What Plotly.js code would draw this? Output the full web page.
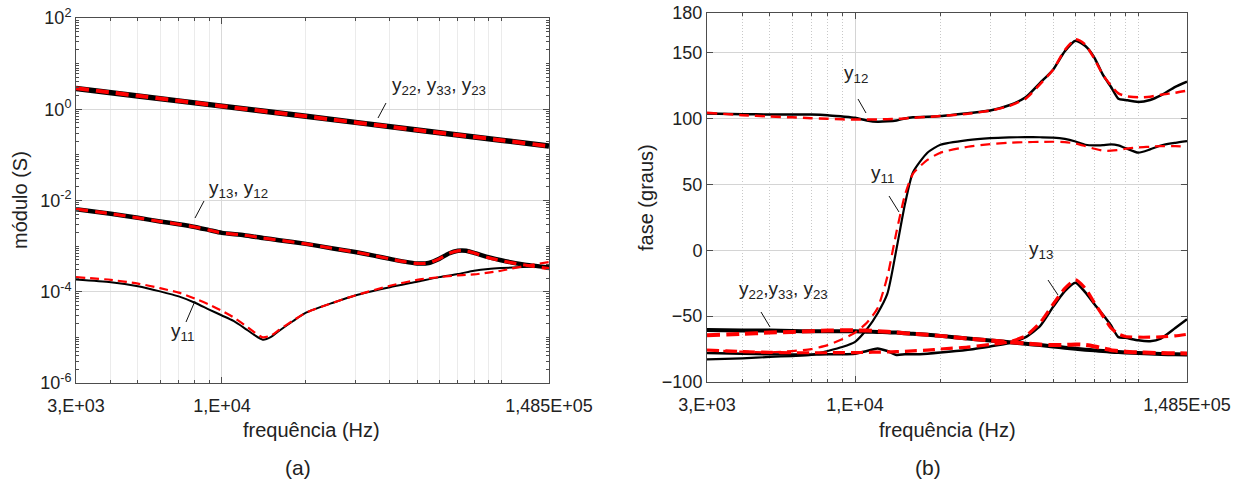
<!DOCTYPE html>
<html><head><meta charset="utf-8">
<script src="https://cdn.plot.ly/plotly-3.0.1.min.js"></script>
<style>body{margin:0;background:#fff}#chart{width:1244px;height:486px}</style>
</head><body><div id="chart"></div>
<script>
// ---------- DATA ----------
// (a) modulo (S)
const magTopFreq  = [3000, 5000, 10000, 20000, 50000, 100000, 148500];
const magY22Meas  = [2.85, 1.95, 1.17, 0.70, 0.352, 0.21, 0.157];
const magY22Model = [2.9, 1.97, 1.17, 0.70, 0.350, 0.21, 0.155];

const magMidFreq  = [3000,4000,5000,6000,7000,8000,9000,10000,12000,14000,16000,20000,25000,30000,35000,40000,45000,50000,55000,60000,65000,70000,75000,80000,90000,100000,120000,148500];
const magY13Meas  = [6.46e-3,5.13e-3,4.17e-3,3.47e-3,3.02e-3,2.63e-3,2.24e-3,1.95e-3,1.74e-3,1.51e-3,1.35e-3,1.12e-3,8.9e-4,7.4e-4,6.2e-4,5.25e-4,4.57e-4,4.17e-4,4.27e-4,5.25e-4,6.9e-4,7.9e-4,7.9e-4,7.1e-4,5.75e-4,4.9e-4,3.98e-4,3.39e-4];
const magY13Model = [6.5e-3,5.13e-3,4.17e-3,3.47e-3,3.02e-3,2.63e-3,2.24e-3,1.95e-3,1.74e-3,1.51e-3,1.35e-3,1.12e-3,8.9e-4,7.4e-4,6.2e-4,5.25e-4,4.57e-4,4.17e-4,4.27e-4,5.25e-4,6.9e-4,7.9e-4,7.9e-4,7.1e-4,5.6e-4,4.8e-4,3.9e-4,3.2e-4];

const magY11Freq  = [3000,4000,5000,6000,7000,8000,9000,10000,11000,12000,13000,14000,15000,16000,18000,20000,25000,30000,40000,50000,60000,70000,80000,90000,100000,120000,148500];
const magY11Meas  = [1.86e-4,1.62e-4,1.32e-4,1.02e-4,7.9e-5,5.75e-5,4.07e-5,3.02e-5,2.29e-5,1.62e-5,1.15e-5,8.9e-6,1.02e-5,1.38e-5,2.29e-5,3.47e-5,5.75e-5,8.3e-5,1.26e-4,1.66e-4,2.09e-4,2.45e-4,2.88e-4,3.16e-4,3.31e-4,3.47e-4,3.63e-4];
const magY11Model = [2.09e-4,1.82e-4,1.51e-4,1.2e-4,9.55e-5,7.08e-5,5.25e-5,3.8e-5,2.75e-5,1.91e-5,1.32e-5,1.0e-5,1.1e-5,1.45e-5,2.34e-5,3.47e-5,5.75e-5,8.3e-5,1.35e-4,1.82e-4,2.09e-4,2.29e-4,2.4e-4,2.63e-4,2.88e-4,3.63e-4,4.47e-4];

// (b) fase (graus)
const phFreq = [3000,4000,5000,6000,7000,8000,9000,10000,11000,12000,13000,14000,15000,16000,18000,20000,25000,30000,35000,40000,45000,50000,55000,60000,65000,70000,75000,80000,85000,90000,100000,110000,120000,135000,148500];
const phY12Meas  = [103.8,103.2,103,103,103,102.5,101.5,100.5,98.5,97.5,97.8,98.5,100,100.8,101.2,101.8,104,106,110,116,127,137,151,159,155,146,133,124,115,114,112.5,114,117.5,124,128];
const phY12Model = [104.3,102.5,101.5,100.8,100.2,99.7,99.3,99.2,99.2,99.2,99.4,99.6,100,100.5,101.2,101.8,103.5,106,109.5,115,126,137,152,160,156,145,133,125,119,117,116,116.5,118,119.5,121];
const phY11Meas  = [-82.8,-82,-81,-80.3,-79.5,-76.5,-73.5,-69.5,-60,-48,-33,1,35,59,74,80,83.5,85,85.6,85.8,85.7,85.5,84.5,82.5,80,79.5,79.8,80.3,79.5,77.5,74,76.5,79.5,81.5,82.8];
const phY11Model = [-75.7,-77,-77.5,-76.5,-75,-72,-67.5,-62.5,-55,-44,-20,14,42,58,68.5,74,78.5,80.5,81.5,82,82.2,82.3,82,81,79,77,75.5,75.5,76,77,78,78.5,79,79,78.5];
const phY22Meas  = [-60.5,-61,-61,-61.3,-61.5,-61.5,-61.5,-61.5,-61.8,-62,-62.3,-62.5,-63,-63.3,-64.2,-65,-67,-68.5,-69.8,-71,-72,-73,-74,-74.8,-75.5,-76,-76.5,-77,-77.3,-77.6,-78,-78.4,-78.7,-79,-79.2];
const phY22Model = [-64.5,-63.5,-62.5,-62,-61.5,-61,-60.8,-60.8,-61,-61.4,-61.9,-62.4,-63,-63.4,-64.2,-65,-67,-68.5,-69.8,-70.8,-71.6,-72,-71.8,-71.5,-71.8,-73,-74.5,-75.8,-76.5,-77,-77.5,-77.8,-78,-78.2,-78.3];
const phY13Meas  = [-78,-78.5,-79,-79.2,-79.2,-79,-79,-78.5,-76.5,-74.5,-76.5,-79.5,-79,-79,-78.5,-77.7,-75.5,-73,-70.5,-66,-57.5,-43,-31,-24.6,-32,-41,-49,-57,-66,-66.5,-68.4,-69,-67,-59,-52.4];
const phY13Model = [-75.7,-77,-77.5,-77.8,-77.8,-77.8,-77.7,-77.7,-77.5,-77.3,-77.2,-77,-76.7,-76.4,-75.8,-75,-73.5,-71.5,-69.5,-65,-55,-41,-29,-22.5,-29,-40,-50,-59,-63.5,-65.5,-66,-66,-65.8,-65,-63.8];

// ticks
const xTickVals = [3000, 10000, 148500];
const xTickText = ['3,E+03', '1,E+04', '1,485E+05'];
const xMinorVals = [4000,5000,6000,7000,8000,9000,20000,30000,40000,50000,60000,70000,80000,90000,100000];
const magTickVals = [1e-6, 1e-4, 1e-2, 1, 100];
const magTickText = ['10<sup>-6</sup>','10<sup>-4</sup>','10<sup>-2</sup>','10<sup>0</sup>','10<sup>2</sup>'];
const magMinorMant = [1,2,3,4,5,6,7,8,9];
const magMinorExp = [-6,-5,-4,-3,-2,-1,0,1];
const phTickVals = [-100, -50, 0, 50, 100, 150, 180];

// ---------- LAYOUT HELPERS ----------
const W = 1244, H = 486;
const px = v => v / W, py = v => 1 - v / H;
const FONT = 'Liberation Sans, Arial, sans-serif';
const TXT = '#222222';
const AXC = '#4d4d4d';

const magMinorVals = [];
magMinorExp.forEach(e => magMinorMant.forEach(m => {
  if (!(m === 1 && e % 2 === 0)) magMinorVals.push(m * Math.pow(10, e));
}));

function tr(x, y, xa, ya, color, width, dash) {
  return {x: x, y: y, xaxis: xa, yaxis: ya, type: 'scatter', mode: 'lines',
    line: {color: color, width: width, dash: dash || 'solid', shape: 'spline', smoothing: 0.6},
    hoverinfo: 'skip', showlegend: false};
}

const traces = [
  // black (measured) first
  tr(magTopFreq, magY22Meas, 'x', 'y', '#000', 5.5),
  tr(magMidFreq, magY13Meas, 'x', 'y', '#000', 4.5),
  tr(magY11Freq, magY11Meas, 'x', 'y', '#000', 2),
  tr(phFreq, phY12Meas, 'x2', 'y2', '#000', 2.5),
  tr(phFreq, phY11Meas, 'x2', 'y2', '#000', 2.2),
  tr(phFreq, phY22Meas, 'x2', 'y2', '#000', 4),
  tr(phFreq, phY13Meas, 'x2', 'y2', '#000', 2.5),
  // red dashed (model) on top
  tr(magTopFreq, magY22Model, 'x', 'y', '#ff0000', 4, '13px,7px'),
  tr(magMidFreq, magY13Model, 'x', 'y', '#ff0000', 3.2, '12px,7px'),
  tr(magY11Freq, magY11Model, 'x', 'y', '#ff0000', 2.2, '9px,5px'),
  tr(phFreq, phY12Model, 'x2', 'y2', '#ff0000', 2.5, '10px,6px'),
  tr(phFreq, phY11Model, 'x2', 'y2', '#ff0000', 2.2, '10px,6px'),
  tr(phFreq, phY22Model, 'x2', 'y2', '#ff0000', 4, '13px,6px'),
  tr(phFreq, phY13Model, 'x2', 'y2', '#ff0000', 3.2, '12px,6px')
];

const baseAxis = {
  showline: true, linecolor: AXC, linewidth: 1, mirror: 'ticks',
  ticks: 'inside', ticklen: 6, tickcolor: AXC, tickwidth: 1,
  tickfont: {family: FONT, size: 18, color: TXT},
  zeroline: false, fixedrange: true
};

function xAxis(domain, anchor, dotted) {
  return Object.assign({}, baseAxis, {
    type: 'log', domain: domain, anchor: anchor,
    range: [Math.log10(3000), Math.log10(148500)],
    tickmode: 'array', tickvals: xTickVals, ticktext: xTickText,
    ticklabelstandoff: 6,
    showgrid: true, gridcolor: dotted ? '#d4d4d4' : '#d9d9d9', gridwidth: 1,
    minor: {tickmode: 'array', tickvals: xMinorVals, ticks: 'inside', ticklen: 3,
      tickcolor: AXC, showgrid: true,
      gridcolor: dotted ? '#c8c8c8' : '#ebebeb', griddash: dotted ? '1px,2px' : 'solid', gridwidth: 1}
  });
}

const layout = {
  width: W, height: H,
  margin: {l: 0, r: 0, t: 0, b: 0},
  paper_bgcolor: '#fff', plot_bgcolor: '#fff',
  font: {family: FONT, color: TXT},
  showlegend: false,
  xaxis: xAxis([px(76), px(549)], 'y', false),
  yaxis: Object.assign({}, baseAxis, {
    type: 'log', domain: [py(383), py(18)], anchor: 'x',
    range: [-6, 2], tickmode: 'array', tickvals: magTickVals, ticktext: magTickText,
    showgrid: true, gridcolor: '#d9d9d9',
    minor: {tickmode: 'array', tickvals: magMinorVals, ticks: 'inside', ticklen: 3, tickcolor: AXC, showgrid: false}
  }),
  xaxis2: xAxis([px(707), px(1187)], 'y2', true),
  yaxis2: Object.assign({}, baseAxis, {
    domain: [py(382), py(13)], anchor: 'x2',
    range: [-100, 180], tickmode: 'array', tickvals: phTickVals,
    showgrid: true, gridcolor: '#d4d4d4'
  }),
  annotations: [],
  shapes: []
};

function txt(text, x, y, opts) {
  layout.annotations.push(Object.assign({
    text: text, xref: 'paper', yref: 'paper', x: px(x), y: py(y),
    showarrow: false, font: {family: FONT, size: 19, color: TXT},
    xanchor: 'left', yanchor: 'middle'
  }, opts || {}));
}
function leader(x0, y0, x1, y1) {
  layout.shapes.push({type: 'line', xref: 'paper', yref: 'paper',
    x0: px(x0), y0: py(y0), x1: px(x1), y1: py(y1), line: {color: '#111', width: 1}});
}

// axis titles / captions
const titleFont = {family: FONT, size: 20, color: TXT};
txt('módulo (S)', 20, 200, {xanchor: 'center', textangle: -90, font: titleFont});
txt('frequência (Hz)', 311, 430, {xanchor: 'center', font: titleFont});
txt('(a)', 298, 467, {xanchor: 'center', font: {family: FONT, size: 21, color: TXT}});
txt('fase (graus)', 646, 198, {xanchor: 'center', textangle: -90, font: titleFont});
txt('frequência (Hz)', 947, 430, {xanchor: 'center', font: titleFont});
txt('(b)', 928, 467, {xanchor: 'center', font: {family: FONT, size: 21, color: TXT}});

// curve labels (a)
txt('y<sub>22</sub>, y<sub>33</sub>, y<sub>23</sub>', 390, 86);
leader(378, 118, 386, 103);
txt('y<sub>13</sub>, y<sub>12</sub>', 207, 189);
leader(195, 218, 204, 201);
txt('y<sub>11</sub>', 169, 332);
leader(186, 322, 195, 301);
// curve labels (b)
txt('y<sub>12</sub>', 842, 74);
leader(858, 99, 866, 113);
txt('y<sub>11</sub>', 869, 174);
leader(889, 196, 899, 212);
txt('y<sub>13</sub>', 1027, 250);
leader(1048, 280, 1058, 295);
txt('y<sub>22</sub>,y<sub>33</sub>, y<sub>23</sub>', 737, 290);
leader(761, 312, 770, 327);

Plotly.newPlot('chart', traces, layout, {staticPlot: true, displayModeBar: false});
</script>
</body></html>
